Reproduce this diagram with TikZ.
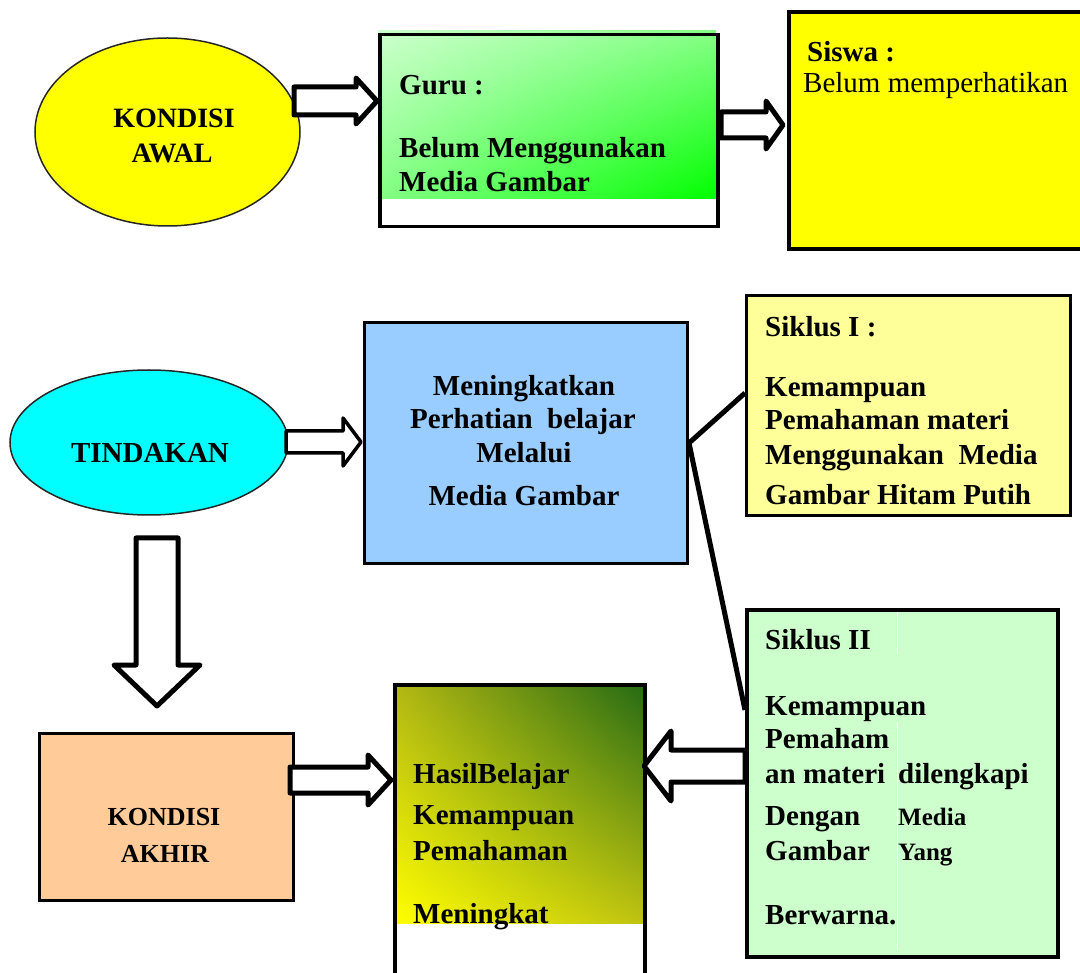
\documentclass[tikz,border=0pt]{standalone}
\usepackage{fontspec}
\setmainfont{Liberation Serif}
\usetikzlibrary{shapes.geometric,calc,shadings}
\definecolor{cyel}{HTML}{FFFF00}
\definecolor{ccyan}{HTML}{00FFFF}
\definecolor{cblue}{HTML}{99CCFF}
\definecolor{clyel}{HTML}{FFFF99}
\definecolor{clgreen}{HTML}{CCFFCC}
\definecolor{cpeach}{HTML}{FFCC99}
\definecolor{cgreen}{HTML}{00FF00}
\definecolor{cmidgreen}{HTML}{66FF66}
\definecolor{cdkgreen}{HTML}{246A14}
\definecolor{colive}{HTML}{B4B814}
\begin{document}
\begin{tikzpicture}[x=1pt,y=-1pt,
  box/.style={draw=black, line width=3.5pt, rectangle, anchor=north west, inner sep=0pt},
  oval/.style={draw=black!85, line width=1.5pt, ellipse, inner sep=0pt},
  txt/.style={anchor=base west, inner sep=0pt, font=\fontsize{29}{34}\selectfont\bfseries},
  ctxt/.style={anchor=base, inner sep=0pt, font=\fontsize{29}{34}\selectfont\bfseries},
  stxt/.style={anchor=base west, inner sep=0pt, font=\fontsize{25}{30}\selectfont\bfseries},
  conn/.style={draw=black, line width=5pt},
  barrow/.style n args={3}{draw=black, fill=white, line width=5pt, line join=round,
    to path={let \p1=(\tikztostart), \p2=(\tikztotarget),
      \n1={veclen(\x2-\x1,\y2-\y1)}, \n2={atan2(\y2-\y1,\x2-\x1)} in
      [shift={(\p1)}, rotate=\n2]
      (0,-#1) -- ({\n1-#3},-#1) -- ({\n1-#3},-#2) -- ({\n1},0) -- ({\n1-#3},#2) -- ({\n1-#3},#1) -- (0,#1) -- cycle}},
]
\useasboundingbox (0,0) rectangle (1080,973);
\clip (0,0) rectangle (1080,973);

% ---- top row ----
\node[oval, fill=cyel, minimum width=265pt, minimum height=188pt] (awal) at (167.5,132) {};
\node[ctxt, font=\fontsize{28}{33}\selectfont\bfseries] (awal1) at (174,128) {KONDISI};
\node[ctxt, font=\fontsize{28}{33}\selectfont\bfseries] (awal2) at (172,163) {AWAL};

\shade[upper left=clgreen, lower right=cgreen, upper right=cmidgreen!70!clgreen, lower left=cmidgreen!70!clgreen] (378,31) rectangle (716,199);
\node[box, minimum width=338pt, minimum height=192pt] (guru) at (378,33) {};
\node[txt] (guru1) at (399,95) {Guru :};
\node[txt] (guru2) at (399,158) {Belum Menggunakan};
\node[txt] (guru3) at (399,192) {Media Gambar};

\node[box, fill=cyel, line width=4pt, minimum width=300pt, minimum height=237pt] (siswa) at (787,10) {};
\node[txt] (siswa1) at (807,62) {Siswa :};
\node[txt, font=\fontsize{29}{34}\selectfont] (siswa2) at (803,93) {Belum memperhatikan};

\coordinate (a1s) at (294,101);
\coordinate (a1t) at (377,101);
\draw[barrow={14}{23}{21}] (a1s) to (a1t);
\coordinate (a2s) at (721,125);
\coordinate (a2t) at (783,125);
\draw[barrow={13}{24}{17}] (a2s) to (a2t);

% ---- middle ----
\node[oval, fill=ccyan, minimum width=278pt, minimum height=145pt] (tind) at (149,442.5) {};
\node[ctxt] (tind1) at (150,463) {TINDAKAN};

\node[box, fill=cblue, line width=3pt, minimum width=323pt, minimum height=241pt] (blue) at (363,321) {};
\node[ctxt] (blue1) at (524,396) {Meningkatkan};
\node[ctxt] (blue2) at (523,429) {Perhatian\ \ belajar};
\node[ctxt] (blue3) at (524,463) {Melalui};
\node[ctxt] (blue4) at (524,506) {Media Gambar};

\node[box, fill=clyel, line width=3pt, minimum width=324pt, minimum height=220pt] (s1) at (745,294) {};
\node[txt] (s1a) at (765,337) {Siklus I :};
\node[txt] (s1b) at (765,397) {Kemampuan};
\node[txt] (s1c) at (765,430) {Pemahaman materi};
\node[txt] (s1d) at (765,465) {Menggunakan\ \ Media};
\node[txt] (s1e) at (765,505) {Gambar Hitam Putih};

\coordinate (a3s) at (286,442);
\coordinate (a3t) at (361,442);
\draw[barrow={11}{24}{18}, line width=3.5pt] (a3s) to (a3t);

\coordinate (c1) at (745,393);
\coordinate (c2) at (745,710);
\draw[conn] (blue.east) -- (c1);
\draw[conn] (blue.east) -- (c2);

% ---- bottom ----
\coordinate (a6s) at (157,538);
\coordinate (a6t) at (157,706);
\draw[barrow={21}{43}{41}] (a6s) to (a6t);

\node[box, fill=cpeach, line width=3pt, minimum width=254pt, minimum height=167pt] (akhir) at (38,732) {};
\node[ctxt, font=\fontsize{26}{31}\selectfont\bfseries] (akhir1) at (164,825) {KONDISI};
\node[ctxt, font=\fontsize{26}{31}\selectfont\bfseries] (akhir2) at (165,862) {AKHIR};

\shade[upper left=colive, lower right=colive!85!cyel, upper right=cdkgreen, lower left=cyel] (393,683) rectangle (643,923);
\node[box, minimum width=250pt, minimum height=320pt] (hasil) at (393,683) {};
\node[txt] (h1) at (413,783) {HasilBelajar};
\node[txt] (h2) at (413,824) {Kemampuan};
\node[txt] (h3) at (413,860) {Pemahaman};
\node[txt] (h4) at (413,923) {Meningkat};

\node[box, fill=clgreen, line width=3.5pt, minimum width=311pt, minimum height=347pt] (s2) at (745,608) {};
\draw[white, line width=1pt] (897,612) -- (897,655);
\draw[white, line width=1pt] (897,722) -- (897,951);
\node[txt] (s2a) at (765,649) {Siklus II};
\node[txt] (s2b) at (765,715) {Kemampuan};
\node[txt] (s2c) at (765,748) {Pemaham};
\node[txt] (s2d) at (765,783) {an materi};
\node[txt] (s2e) at (898,783) {dilengkapi};
\node[txt] (s2f) at (765,825) {Dengan};
\node[stxt] (s2g) at (898,825) {Media};
\node[txt] (s2h) at (765,860) {Gambar};
\node[stxt] (s2i) at (898,860) {Yang};
\node[txt] (s2j) at (765,924) {Berwarna.};

\coordinate (a4s) at (290,780);
\coordinate (a4t) at (391,780);
\draw[barrow={13}{25}{23}] (a4s) to (a4t);
\coordinate (a5s) at (745,766);
\coordinate (a5t) at (644,766);
\draw[barrow={16}{35}{27}] (a5s) to (a5t);
\end{tikzpicture}
\end{document}
